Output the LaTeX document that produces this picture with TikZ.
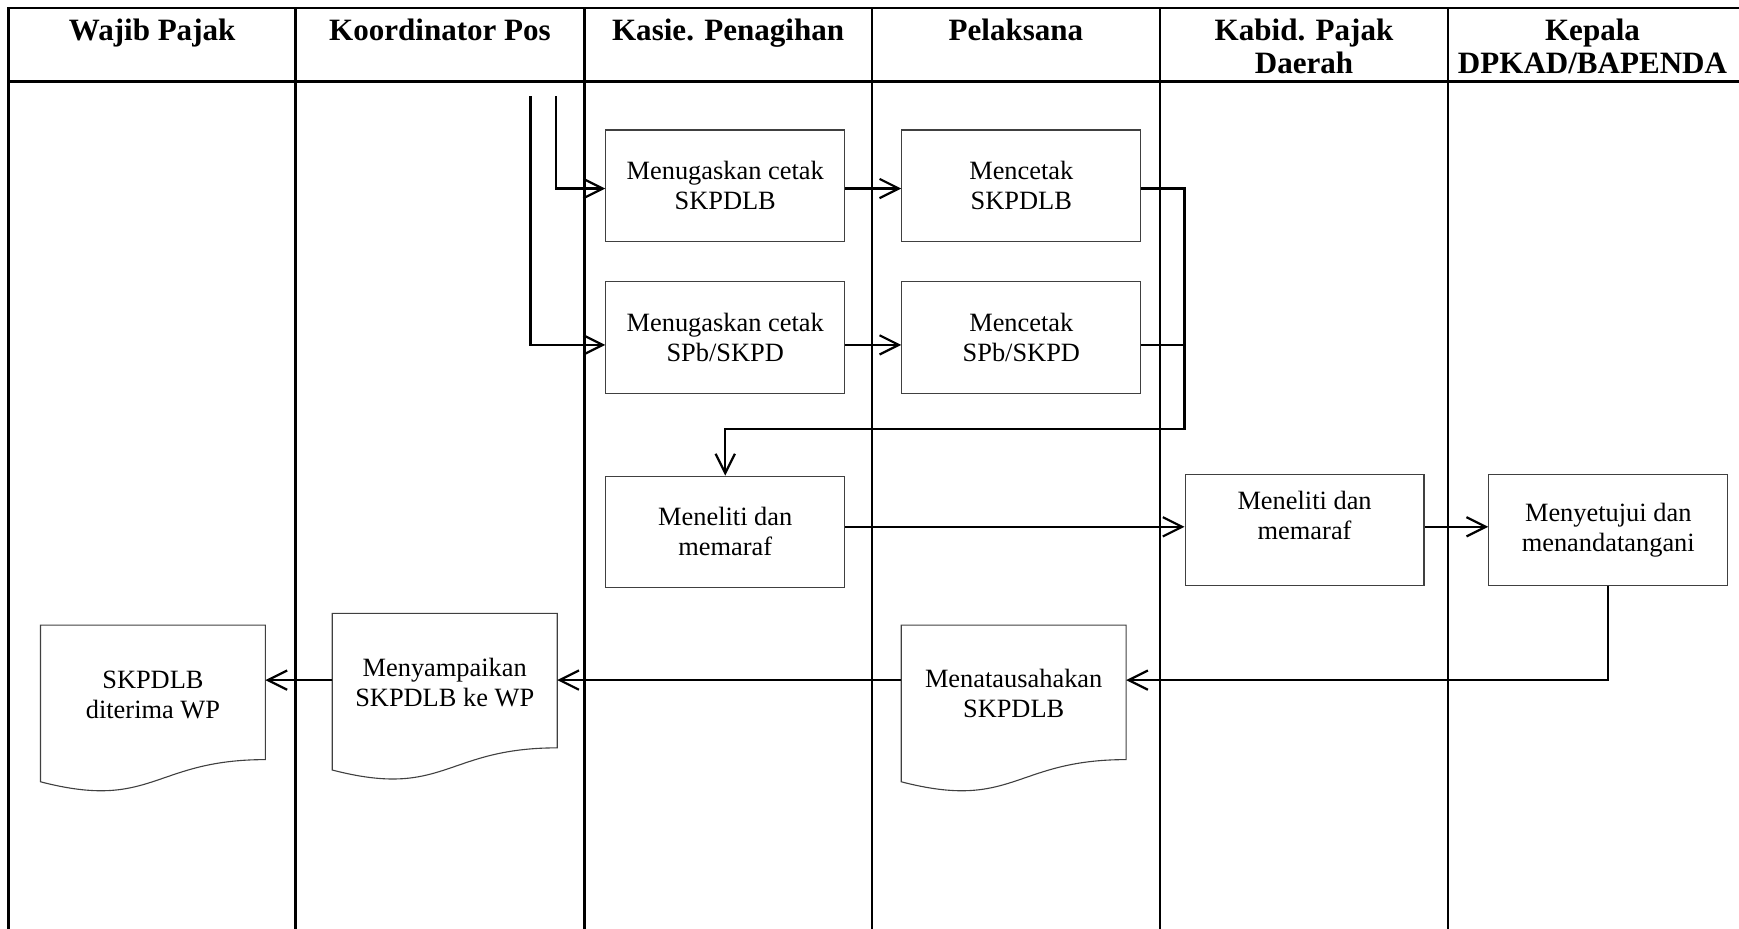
\documentclass[tikz,border=0pt]{standalone}
\usepackage{fontspec}
\setmainfont{Liberation Serif}
\usetikzlibrary{arrows.meta,calc}

% outline of a flowchart "document" symbol drawn on an invisible node
\newcommand\drawdocshape[1]{%
  \draw[docline] (#1.north west) -- (#1.north east)
    -- ($(#1.north east)+(0,121.3)$)
    .. controls ($(#1.north)+(0,121.3)$) and ($(#1.north)+(0,167.6)$) ..
    ($(#1.north west)+(0,141.3)$) -- cycle;}

\begin{document}
\begin{tikzpicture}[x=0.5pt,y=-0.5pt,
  lane/.style={line width=1.2pt},
  conn/.style={line width=1pt},
  arr/.style={conn,-{Straight Barb[length=8.7pt,width=8.7pt]}},
  head/.style={font=\bfseries\fontsize{14}{15}\selectfont,align=center,inner sep=0pt,anchor=north},
  task/.style={draw=black!75,line width=0.5pt,minimum width=107.7pt,minimum height=50.2pt,
    inner sep=0pt,align=center,font=\fontsize{11.9}{13.5}\selectfont},
  docnode/.style={minimum width=101pt,minimum height=75.65pt,inner sep=0pt,anchor=north},
  doctext/.style={align=center,inner sep=0pt,font=\fontsize{11.9}{13.5}\selectfont},
  docline/.style={draw=black!75,line width=0.5pt}]

\useasboundingbox (0,0) rectangle (1568,837);

% swimlane frame
\draw[lane] (7.8,7.2) -- (1572,7.2);
\draw[lane] (7.8,73.7) -- (1572,73.7);
\draw[lane] (7.8,6.6) -- (7.8,840);
\foreach \x in {266.6,526.8,786.2,1045.8,1305.7}
  \draw[lane] (\x,6.6) -- (\x,840);

% lane titles
\node[head] (h1) at (137.2,16.5) {Wajib Pajak};
\node[head] (h2) at (396.7,16.5) {Koordinator Pos};
\node[head] (h3) at (656.5,16.5) {Kasie. Penagihan};
\node[head] (h4) at (916,16.5) {Pelaksana};
\node[head] (h5) at (1175.8,16.5) {Kabid. Pajak\\Daerah};
\node[head] (h6) at (1435.9,16.5) {Kepala\\DPKAD/BAPENDA};

% process steps
\node[task] (b1) at (653.9,167.4) {Menugaskan cetak\\SKPDLB};
\node[task] (b2) at (920.9,167.4) {Mencetak\\SKPDLB};
\node[task] (b3) at (653.9,304.4) {Menugaskan cetak\\SPb/SKPD};
\node[task] (b4) at (920.9,304.4) {Mencetak\\SPb/SKPD};
\node[task] (b5) at (653.9,479.5) {Meneliti dan\\memaraf};
\node[task] (b6) at (1176.3,478) {Meneliti dan\\memaraf\\~};
\node[task] (b7) at (1450.1,478) {Menyetujui dan\\menandatangani};

% documents
\node[docnode] (d1) at (137.9,563.6) {};
\node[docnode] (d2) at (401,553) {};
\node[docnode] (d3) at (914,563.6) {};
\drawdocshape{d1}
\drawdocshape{d2}
\drawdocshape{d3}
\node[doctext] (d1t) at ($(d1.north)+(0,63)$) {SKPDLB\\diterima WP};
\node[doctext] (d2t) at ($(d2.north)+(0,62)$) {Menyampaikan\\SKPDLB ke WP};
\node[doctext] (d3t) at ($(d3.north)+(0,62)$) {Menatausahakan\\SKPDLB};

% routing points
\coordinate (s1) at (478.3,86.6);
\coordinate (s2) at (501.2,86.6);
\coordinate (r1) at (0,170);
\coordinate (r2) at (0,311);
\coordinate (r3) at (0,475);
\coordinate (r4) at (0,613.2);
\coordinate (jn) at (1068,386.8);

% flow
\draw[arr] (s2) |- (b1.west |- r1);
\draw[arr] (s1) |- (b3.west |- r2);
\draw[arr] (b1.east |- r1) -- (b2.west |- r1);
\draw[arr] (b3.east |- r2) -- (b4.west |- r2);
\draw[arr] (b2.east |- r1) -| (jn) -| (b5.north);
\draw[conn] (b4.east |- r2) -- (jn |- r2);
\draw[arr] (b5.east |- r3) -- (b6.west |- r3);
\draw[arr] (b6.east |- r3) -- (b7.west |- r3);
\draw[arr] (b7.south) |- (d3.east |- r4);
\draw[arr] (d3.west |- r4) -- (d2.east |- r4);
\draw[arr] (d2.west |- r4) -- (d1.east |- r4);
\end{tikzpicture}
\end{document}
